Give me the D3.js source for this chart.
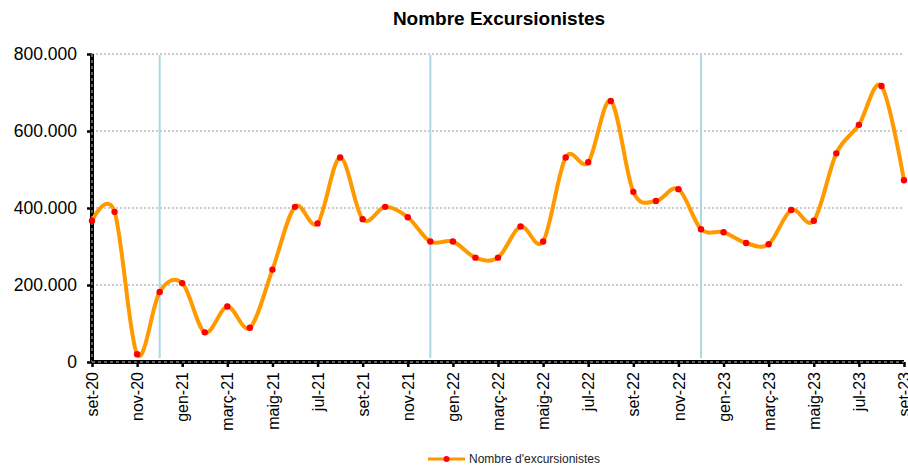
<!DOCTYPE html>
<html>
<head>
  <meta charset="UTF-8">
  <title>Nombre Excursionistes</title>
  <script src="https://cdn.jsdelivr.net/npm/d3@7"></script>
  <style>
    body { margin: 0; background: #fff; }
    svg { font-family: "Liberation Sans", Arial, sans-serif; }
  </style>
</head>
<body>
<div id="chart"></div>
<script>
  // months, sep 2020 .. sep 2023
  var months = ['set-20','oct-20','nov-20','des-20','gen-21','febr-21','març-21','abr-21','maig-21','juny-21','jul-21','ag-21',
                'set-21','oct-21','nov-21','des-21','gen-22','febr-22','març-22','abr-22','maig-22','juny-22','jul-22','ag-22',
                'set-22','oct-22','nov-22','des-22','gen-23','febr-23','març-23','abr-23','maig-23','juny-23','jul-23','ag-23','set-23'];
  var excursionistes = [367000, 390000, 20000, 182000, 205000, 77000, 144000, 89000, 240000, 403000, 360000, 531000,
                        371000, 403000, 376000, 313000, 313000, 271000, 271000, 352000, 313000, 531000, 519000, 678000,
                        442000, 418000, 449000, 345000, 337000, 309000, 306000, 395000, 367000, 542000, 616000, 717000, 472000];
  var yTicks = [0, 200000, 400000, 600000, 800000];
  var yearMarks = ['des-20', 'des-21', 'des-22'];

  var W = 908, H = 470;
  var margin = { top: 54, right: 4, bottom: 108, left: 92 };
  var width = W - margin.left - margin.right;
  var height = H - margin.top - margin.bottom;

  var svg = d3.select('#chart').append('svg')
    .attr('width', W)
    .attr('height', H);

  svg.append('text')
    .attr('x', 499).attr('y', 25)
    .attr('text-anchor', 'middle')
    .style('font-size', '19px')
    .style('font-weight', 'bold')
    .text('Nombre Excursionistes');

  var g = svg.append('g')
    .attr('transform', 'translate(' + margin.left + ',' + margin.top + ')');

  var x = d3.scalePoint().domain(months).range([0, width]);
  var y = d3.scaleLinear().domain([0, 800000]).range([height, 0]);

  var fmt = function (v) { return d3.format(',')(v).replace(/,/g, '.'); };

  // gridlines
  g.selectAll('.grid').data(yTicks.slice(1)).enter()
    .append('line')
      .attr('x1', 0).attr('x2', width)
      .attr('y1', d => y(d)).attr('y2', d => y(d))
      .attr('stroke', '#999').attr('stroke-width', 1)
      .attr('stroke-dasharray', '2,2');

  // year markers
  g.selectAll('.year').data(yearMarks).enter()
    .append('line')
      .attr('x1', d => x(d)).attr('x2', d => x(d))
      .attr('y1', 1).attr('y2', height - 4)
      .attr('stroke', '#add8e6').attr('stroke-width', 2);

  // y axis
  var yAxis = d3.axisLeft(y).tickValues(yTicks).tickFormat(fmt).tickSize(5).tickPadding(10);
  var ya = g.append('g').call(yAxis);
  ya.select('.domain').remove();
  ya.selectAll('text').style('font-size', '17.5px').attr('fill', '#000');
  ya.selectAll('line').attr('stroke-width', 2.5);

  // x axis
  var xAxis = d3.axisBottom(x)
    .tickValues(months.filter((d, i) => i % 2 === 0))
    .tickSize(5);
  var xa = g.append('g').attr('transform', 'translate(0,' + height + ')').call(xAxis);
  xa.select('.domain').remove();
  xa.selectAll('line').attr('stroke-width', 2.5);
  xa.selectAll('text')
    .style('font-size', '16px')
    .attr('fill', '#000')
    .attr('text-anchor', 'end')
    .attr('transform', 'rotate(-90)')
    .attr('x', -10).attr('y', 0)
    .attr('dy', '0.35em');

  // thick axis lines with dashed inner look
  [[0, 0, 0, height], [0, height, width, height]].forEach(function (p) {
    g.append('line').attr('x1', p[0]).attr('y1', p[1]).attr('x2', p[2]).attr('y2', p[3])
      .attr('stroke', '#000').attr('stroke-width', 4);
    g.append('line').attr('x1', p[0]).attr('y1', p[1]).attr('x2', p[2]).attr('y2', p[3])
      .attr('stroke', '#bbb').attr('stroke-width', 1)
      .attr('stroke-dasharray', '3,3');
  });

  // series
  var line = d3.line()
    .x((d, i) => x(months[i]))
    .y(d => y(d))
    .curve(d3.curveCardinal.tension(0));

  g.append('path')
    .datum(excursionistes)
    .attr('d', line)
    .attr('fill', 'none')
    .attr('stroke', '#ff9900')
    .attr('stroke-width', 4);

  g.selectAll('.pt').data(excursionistes).enter()
    .append('circle')
      .attr('cx', (d, i) => x(months[i]))
      .attr('cy', d => y(d))
      .attr('r', 3.2)
      .attr('fill', '#ff0000');

  // legend
  var lg = svg.append('g').attr('transform', 'translate(428,459)');
  lg.append('line').attr('x1', 0).attr('x2', 37).attr('y1', 0).attr('y2', 0)
    .attr('stroke', '#ff9900').attr('stroke-width', 3);
  lg.append('circle').attr('cx', 18.5).attr('cy', 0).attr('r', 3).attr('fill', '#ff0000');
  lg.append('text').attr('x', 41).attr('y', 0).attr('dy', '0.35em')
    .style('font-size', '12px')
    .attr('fill', '#222')
    .text("Nombre d'excursionistes");
</script>
</body>
</html>
